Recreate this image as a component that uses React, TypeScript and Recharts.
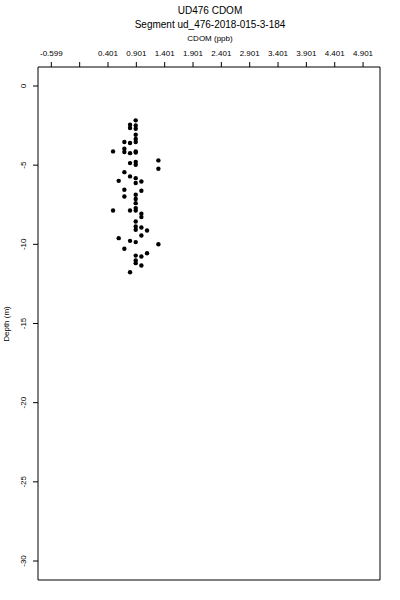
import {
  ScatterChart,
  Scatter,
  XAxis,
  YAxis,
  ReferenceArea,
} from "recharts";

// CDOM readings (ppb) and depth (m) read from the profile
const cdom = [
  0.89, 0.79, 0.79, 0.89, 0.89, 0.89, 0.89, 0.69, 0.79, 0.89,
  0.49, 0.69, 0.69, 0.79, 0.89, 0.89, 1.29, 1.29, 0.79, 0.89,
  0.89, 0.69, 0.79, 0.89, 0.89, 0.99, 0.59, 0.69, 0.69, 0.89,
  0.89, 0.99, 0.89, 0.89, 0.49, 0.79, 0.89, 0.99, 0.99, 0.89,
  0.89, 0.89, 0.99, 1.09, 0.99, 0.59, 0.79, 0.89, 1.29, 0.69,
  1.09, 0.89, 0.89, 0.99, 0.89, 0.99, 0.79,
];
const depth = [
  -2.17, -2.45, -2.65, -2.49, -2.7, -3.08, -3.35, -3.54, -3.6, -3.54,
  -4.13, -3.96, -4.17, -4.24, -4.13, -4.2, -4.7, -5.23, -4.87, -4.8,
  -4.97, -5.44, -5.71, -5.82, -6.13, -6.03, -5.99, -6.55, -6.98, -6.87,
  -7.14, -6.62, -7.4, -7.71, -7.86, -7.86, -7.86, -8.07, -8.28, -8.56,
  -8.87, -9.08, -8.94, -9.13, -9.44, -9.61, -9.78, -9.86, -9.99, -10.28,
  -10.56, -10.71, -11.02, -10.77, -11.19, -11.34, -11.76,
];

const xTicks = [-0.599, -0.099, 0.401, 0.901, 1.401, 1.901, 2.401, 2.901, 3.401, 3.901, 4.401, 4.901];
const xTickLabels = ["-0.599", "", "0.401", "0.901", "1.401", "1.901", "2.401", "2.901", "3.401", "3.901", "4.401", "4.901"];
const yTicks = [0, -5, -10, -15, -20, -25, -30];

const xDomain: [number, number] = [-0.834, 5.2];
const yDomain: [number, number] = [-31.2, 1.2];

const data = cdom.map((c, i) => ({ cdom: c, depth: depth[i] }));

const FONT = "'Liberation Sans', Arial, Helvetica, sans-serif";

function XTick(props: any) {
  const { x, y, payload } = props;
  const i = xTicks.indexOf(payload.value);
  return (
    <text x={x} y={y} dy={-4} textAnchor="middle" fontSize={8} fontFamily={FONT} fill="#000">
      {xTickLabels[i]}
    </text>
  );
}

function YTick(props: any) {
  const { x, y, payload } = props;
  const tx = x - 5;
  return (
    <text
      x={tx}
      y={y}
      transform={`rotate(-90, ${tx}, ${y})`}
      textAnchor="middle"
      fontSize={8}
      fontFamily={FONT}
      fill="#000"
    >
      {payload.value}
    </text>
  );
}

const Dot = (props: any) => (
  <circle cx={props.cx} cy={props.cy} r={2.2} fill="#000" />
);

export default function App() {
  return (
    <div style={{ position: "absolute", left: 0, top: 0, width: 400, height: 600, background: "#fff", fontFamily: FONT }}>
      <div style={{ position: "absolute", left: 0, width: 420, top: 5, textAlign: "center", fontSize: 10, lineHeight: "12px" }}>
        UD476 CDOM
      </div>
      <div style={{ position: "absolute", left: 0, width: 420, top: 19, textAlign: "center", fontSize: 10, lineHeight: "12px" }}>
        Segment ud_476-2018-015-3-184
      </div>
      <div style={{ position: "absolute", left: 0, width: 420, top: 34, textAlign: "center", fontSize: 8, lineHeight: "10px" }}>
        CDOM (ppb)
      </div>
      <svg width={20} height={600} style={{ position: "absolute", left: 0, top: 0 }}>
        <text
          x={9}
          y={324}
          transform="rotate(-90, 9, 324)"
          textAnchor="middle"
          fontSize={8}
          fontFamily={FONT}
          fill="#000"
        >
          Depth (m)
        </text>
      </svg>
      <ScatterChart
        width={400}
        height={600}
        margin={{ top: 37, left: 8, right: 20, bottom: 20 }}
      >
        <XAxis
          type="number"
          dataKey="cdom"
          orientation="top"
          domain={xDomain}
          ticks={xTicks}
          height={30}
          tickSize={5}
          tickMargin={2}
          tick={<XTick />}
          axisLine={false}
          tickLine={{ stroke: "#000" }}
          allowDataOverflow
          interval={0}
        />
        <YAxis
          type="number"
          dataKey="depth"
          domain={yDomain}
          ticks={yTicks}
          width={30}
          tickSize={5}
          tickMargin={2}
          tick={<YTick />}
          axisLine={false}
          tickLine={{ stroke: "#000" }}
          allowDataOverflow
          interval={0}
        />
        <ReferenceArea
          x1={xDomain[0]}
          x2={xDomain[1]}
          y1={yDomain[0]}
          y2={yDomain[1]}
          fill="none"
          stroke="#000"
          strokeWidth={1}
          ifOverflow="visible"
        />
        <Scatter data={data} shape={Dot} isAnimationActive={false} />
      </ScatterChart>
    </div>
  );
}
